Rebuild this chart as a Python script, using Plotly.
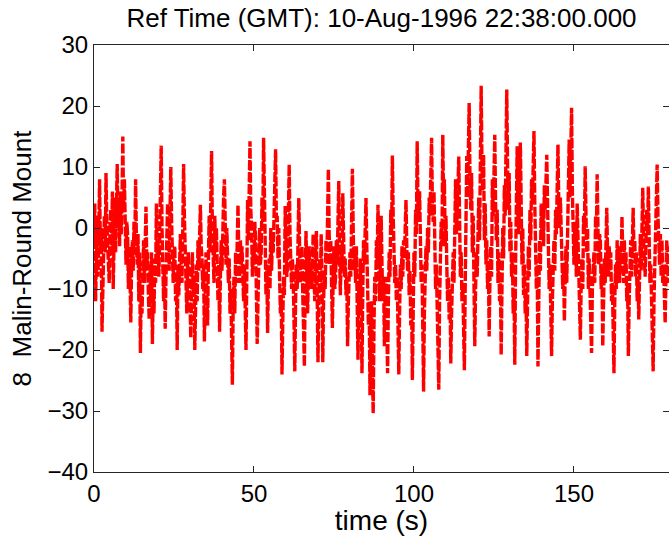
import plotly.graph_objects as go

title_text = "Ref Time (GMT): 10-Aug-1996 22:38:00.000"
ylabel_text = "8\u00a0\u00a0Malin-Round Mount"
xlabel_text = "time (s)"
x_ticks = [0, 50, 100, 150]
y_ticks = [-40, -30, -20, -10, 0, 10, 20, 30]

dt = 0.25  # sample step (s) of the readings
seg_start = [0, 30, 60, 90, 120, 150]

seg1 = [-2, 4, -12, -3, 2, -8, 1, 8, -4, 0, -17, -9, -5, 2, -4, 9, 1, -2, -6, -9,
        0, 3, -3, 6, -10, -1, 5, -4, 2, 10.5, 0, 5, -3, 6, -1, 4, 15, 3, 8, -2,
        -6, 1, -1, -10, -3, -8, -15.5, -6, -2, -7, 1, -3, 8, -2, -6, -1, -12, -4, -20.5, -10,
        -14, -8, -2, -9, -1, 3.5, -6, -4, -11, -15, -6, -12, -4, -19, -10, -14, -5, -9, 4, -5,
        -2, -8, -2, 5, 13.5, 0, -4, -12, -6, -16.5, -8, -2, 4, -3, -7, 2, 10, 1, -3, -9,
        -4, -3, -12, -8, -20, -6, -11, -3, -1, -6, -9, 0, 10.5, 2, -4, -9, -14, -6, -4, -10]

seg2 = [-12, -18, -9, -4, -11, -8, -20, -10, -6, -12, -2, -7, -1, 3.8, -3, -5, -10, -6, -18.6, -8,
        -4, -10, -16, -5, 2, -4, 6, 12.6, 0, -3, -9, 2, -4, 0, -7, -12, -6, -17, -8, -2,
        -7, 1, 5, 8, -2, -6, 0, -3, -9, -5, -14, -10, -19, -25.7, -12, -8, -14, -4, -9, -1,
        3.8, -4, -9, -2, -6, -3, -9, -12, -6, -15, -20, -8, 4.6, -2, 6, 14.2, 3, 0, -8, -3,
        -6, 1, -2, -10, -19, -12, -5, 0, -6, -4, 5, 1, 14.8, 2, -4, -11, -6, -17.2, -9, -5,
        -10, 0, -7, -2, -4, 3, 7, 12.9, 1, 2, -5, 0, -8, -14, -11, -24, -15, -8, -11, 3.6]

seg3 = [-2, -8, -6, 2, 10.4, -1, -4, -10, -5, -8, -15, -23.5, -12, -6, -10, -2, 4.9, -3, -9, -5,
        -3, -11, -16, -22.7, -9, -0.5, -7, -14, -8, -3, -9, -6, -10, -4, -1, -8, -12, -4, -0.5, -11,
        -22, -12, -5, -9, -1, -8, -22, -12, -7, -10, -2, -6, 2, 9.7, -1, -6, -2, -9, -16.4, -8,
        -3, -10, -8, -2, -6, 1, 7.7, -4, -11, -3, -7, 5.7, -2, -8, -5, -11, -8, -19.4, -12, -6,
        -4, -8, 3, 9.7, 0, -7, -3, -9, -3, -12, -21.6, -9, -14, -5, -12, -23.8, -10, -2, -6, 1,
        4.9, -3, -10, -16, -12, -27.4, -15, -12, -22, -30.4, -16, -8, -12, -2, -6, 3.8, -4, -12, -5, 2]

seg4 = [-6, -12, -8, -19.4, -10, -8, -15, -23.8, -12, -4, -8, 3, -1, 11.9, 2, -2, -9, -6, -12, -8,
        -17, -24, -14, -6, -10, -3, -8, -2, -5, 1, 4.6, -3, -7, -4, -11, -7, -16, -12, -24.9, -14,
        -4, -8, 3, -1, 14.2, 4, 1, 6, -4, -9, -6, -16, -26.8, -14, -8, -3, -7, 0, -4, 5,
        2, 9, 14.8, 4, 1, 6, -4, -10, -6, -15, -20, -26.5, -12, -5, 1, -3, 15.3, 4, 8, -3,
        2, -6, -12, -8, -15, -10, -22.2, -14, -8, -4, -9, 2, 8, -1, 2, 7, 11.7, 0, -8, -4,
        -12, -9, -18, -23.3, -10, 2, 11.8, 5, 14, 20.5, 8, 3, 9, -4, 2, -8, -19.4, -10, -4, -8]

seg5 = [2, 5, -2, 12, 23.3, 10, 6, 12, -2, 4, -6, -2, -10, -6, -17.8, -8, -3, -8, 8, 2,
        10, 15.3, 4, -2, 3, -9, -4, -12, -8, -20.8, -10, 0, -5, 7, 2, 12, 22.7, 10, 3, 9,
        -4, 1, -8, -4, -14, -10, -22.4, -6, 5, 13.4, 2, -1, 6, 14, 4, -6, 0, -11, -6, -14,
        -10, -21, -12, -3, -8, 3, -2, 8, 4, 11, 15.9, 4, -1, -10, -6, -22.7, -12, -2, -7, 4,
        -2, 4, -3, 7, 3, 8, 12, 4, -2, -10, -6, -14, -21, -12, -6, -2, -7, 3, -1, 8,
        13.7, 4, 0, 5, -1, -5, -10, -6, -15.3, -8, -3, -9, 2, 6, 14.5, 5, 10, 19.7, 6, 2]

seg6 = [-6, 1, -3, -8, 4, -2, -9, -12, -18.3, -9, -5, -10, 2, -1, 10.1, 2, -4, 0, -10, -5,
        -12, -14, -20.5, -10, -6, -4, -9, 2, -1, 8.8, 0, -6, -1, -2, -10, -7, -19.4, -11, -5, -9,
        -2, 3.3, -4, -8, -3, -7, -4, -12, -9, -18, -23.8, -12, -6, -10, -2, -8, -4, -9, -3, -6,
        1.9, -4, -9, -2, -7, -4, -12, -9, -21, -12, -6, -2, -8, -1, 3.3, -4, -2, -8, -4, -12,
        -8, -15, -6, -1, -7, 0, 6.6, -2, -4, -8, -2, 3, -1, 6.8, -2, -9, -6, -12, -17, -23.5,
        -12, -6, -2, 4, 10.4, 2, -3, -6, -1, -8, -2, -9, -6, -11, -15.6, -8, -2, -6, -9, -3, -4]

segments = [seg1, seg2, seg3, seg4, seg5, seg6]
time_s, amplitude = [], []
for start, seg in zip(seg_start, segments):
    time_s += [start + i * dt for i in range(len(seg))]
    amplitude += seg

FONT = "Liberation Sans, Arial, sans-serif"
AX = "#262626"

fig = go.Figure()
fig.add_trace(go.Scatter(
    x=time_s, y=amplitude, mode="lines",
    line=dict(color="#ff0000", width=3.4, dash="10px,2px"),
    showlegend=False, hoverinfo="skip",
))
fig.add_trace(go.Scatter(x=[], y=[], yaxis="y2", showlegend=False))

fig.update_layout(
    width=669, height=536,
    margin=dict(l=94, r=0, t=45, b=64),
    paper_bgcolor="white", plot_bgcolor="white",
    font=dict(family=FONT, size=24, color="black"),
    title=dict(text=title_text, x=(94 + 669) / 2 / 669, xanchor="center",
               y=1 - 18 / 536, yanchor="middle", font=dict(size=26)),
    xaxis=dict(range=[0, 179.7], tickvals=x_ticks, ticks="inside", ticklen=6, tickcolor=AX,
               showline=True, linecolor=AX, linewidth=1, mirror="ticks", showgrid=False,
               zeroline=False, title=dict(text=xlabel_text, standoff=2, font=dict(size=28))),
    yaxis=dict(range=[-40, 30], tickvals=y_ticks, ticks="inside", ticklen=6, tickcolor=AX,
               showline=True, linecolor=AX, linewidth=1, showgrid=False, zeroline=False,
               title=dict(text=ylabel_text, standoff=8, font=dict(size=26))),
    yaxis2=dict(range=[-40, 30], tickvals=y_ticks, overlaying="y", side="right", ticks="inside",
                ticklen=6, tickcolor=AX, showline=False, showgrid=False, zeroline=False,
                showticklabels=False),
)

fig.write_html("out.html")
